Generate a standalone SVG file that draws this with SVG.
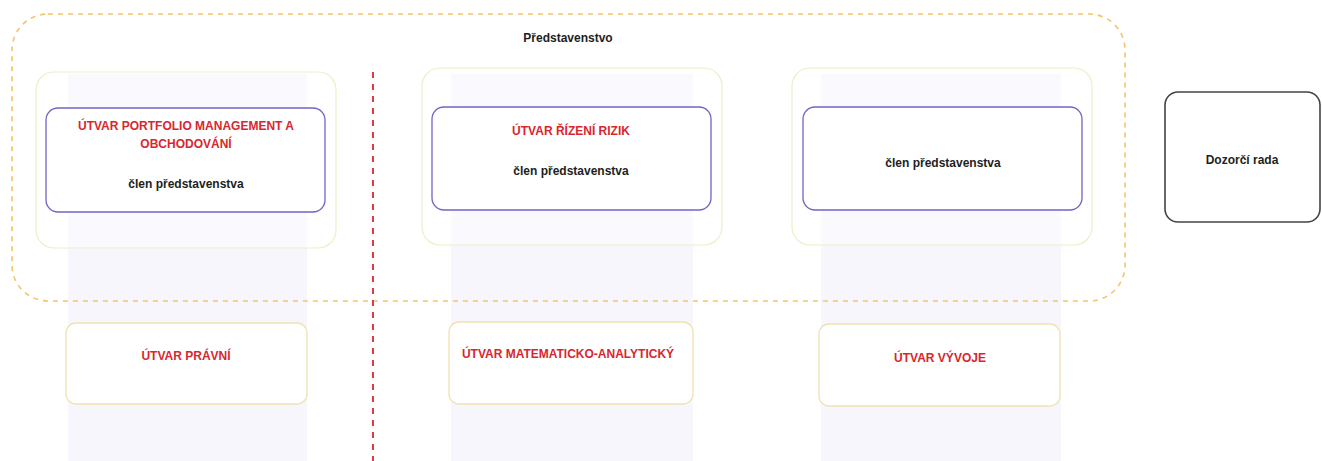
<svg xmlns="http://www.w3.org/2000/svg" width="1322" height="461" viewBox="0 0 1322 461">
<style>
.t{font-family:"Liberation Sans",Arial,sans-serif;font-weight:bold;font-size:12px;text-anchor:middle}
.red{fill:#d9262e}
.blk{fill:#1e1e1e}
.col{fill:#f8f6fd}
.frame{fill:#ffffff;fill-opacity:0.35;stroke:#ecefc8;stroke-width:1.2}
.role{fill:#ffffff;stroke:#6f66c4;stroke-width:1.3}
.unit{fill:#ffffff;stroke:#f1e2b2;stroke-width:1.3}
</style>
<rect width="1322" height="461" fill="#ffffff"/>
<g id="columns">
<rect class="col" x="68" y="74" width="239" height="387"/>
<rect class="col" x="451" y="74" width="242" height="387"/>
<rect class="col" x="821" y="74" width="240" height="387"/>
</g>
<g id="predstavenstvo">
<rect x="12" y="14" width="1113" height="287" rx="36" fill="none" stroke="#f4c46a" stroke-width="1.6" stroke-dasharray="5 5"/>
<text class="t blk" x="568" y="42">Představenstvo</text>
</g>
<g id="connectors">
<line x1="373" y1="72" x2="373" y2="461" stroke="#d52a36" stroke-width="1.8" stroke-dasharray="6 6"/>
</g>
<g id="frame1"><rect class="frame" x="36" y="72" width="300" height="176" rx="18"/></g>
<g id="frame2"><rect class="frame" x="422" y="68" width="300" height="177" rx="18"/></g>
<g id="frame3"><rect class="frame" x="792" y="68" width="300" height="177" rx="18"/></g>
<g id="portfolio">
<rect class="role" x="46" y="108" width="279" height="104" rx="12"/>
<text class="t red" x="186" y="130">ÚTVAR PORTFOLIO MANAGEMENT A</text>
<text class="t red" x="186" y="148">OBCHODOVÁNÍ</text>
<text class="t blk" x="186" y="188">člen představenstva</text>
</g>
<g id="rizeni-rizik">
<rect class="role" x="432" y="107" width="279" height="103" rx="12"/>
<text class="t red" x="571" y="135">ÚTVAR ŘÍZENÍ RIZIK</text>
<text class="t blk" x="571" y="175">člen představenstva</text>
</g>
<g id="clen3">
<rect class="role" x="803" y="107" width="279" height="103" rx="12"/>
<text class="t blk" x="943" y="167">člen představenstva</text>
</g>
<g id="dozorci-rada">
<rect x="1165" y="92" width="155" height="130" rx="13" fill="#ffffff" stroke="#444444" stroke-width="1.6"/>
<text class="t blk" x="1242" y="164">Dozorčí rada</text>
</g>
<g id="pravni">
<rect class="unit" x="66" y="323" width="241" height="81" rx="10"/>
<text class="t red" x="186" y="360">ÚTVAR PRÁVNÍ</text>
</g>
<g id="matematicko">
<rect class="unit" x="449" y="322" width="244" height="82" rx="10"/>
<text class="t red" x="568" y="358">ÚTVAR MATEMATICKO-ANALYTICKÝ</text>
</g>
<g id="vyvoje">
<rect class="unit" x="819" y="324" width="241" height="82" rx="10"/>
<text class="t red" x="940" y="362">ÚTVAR VÝVOJE</text>
</g>
</svg>
